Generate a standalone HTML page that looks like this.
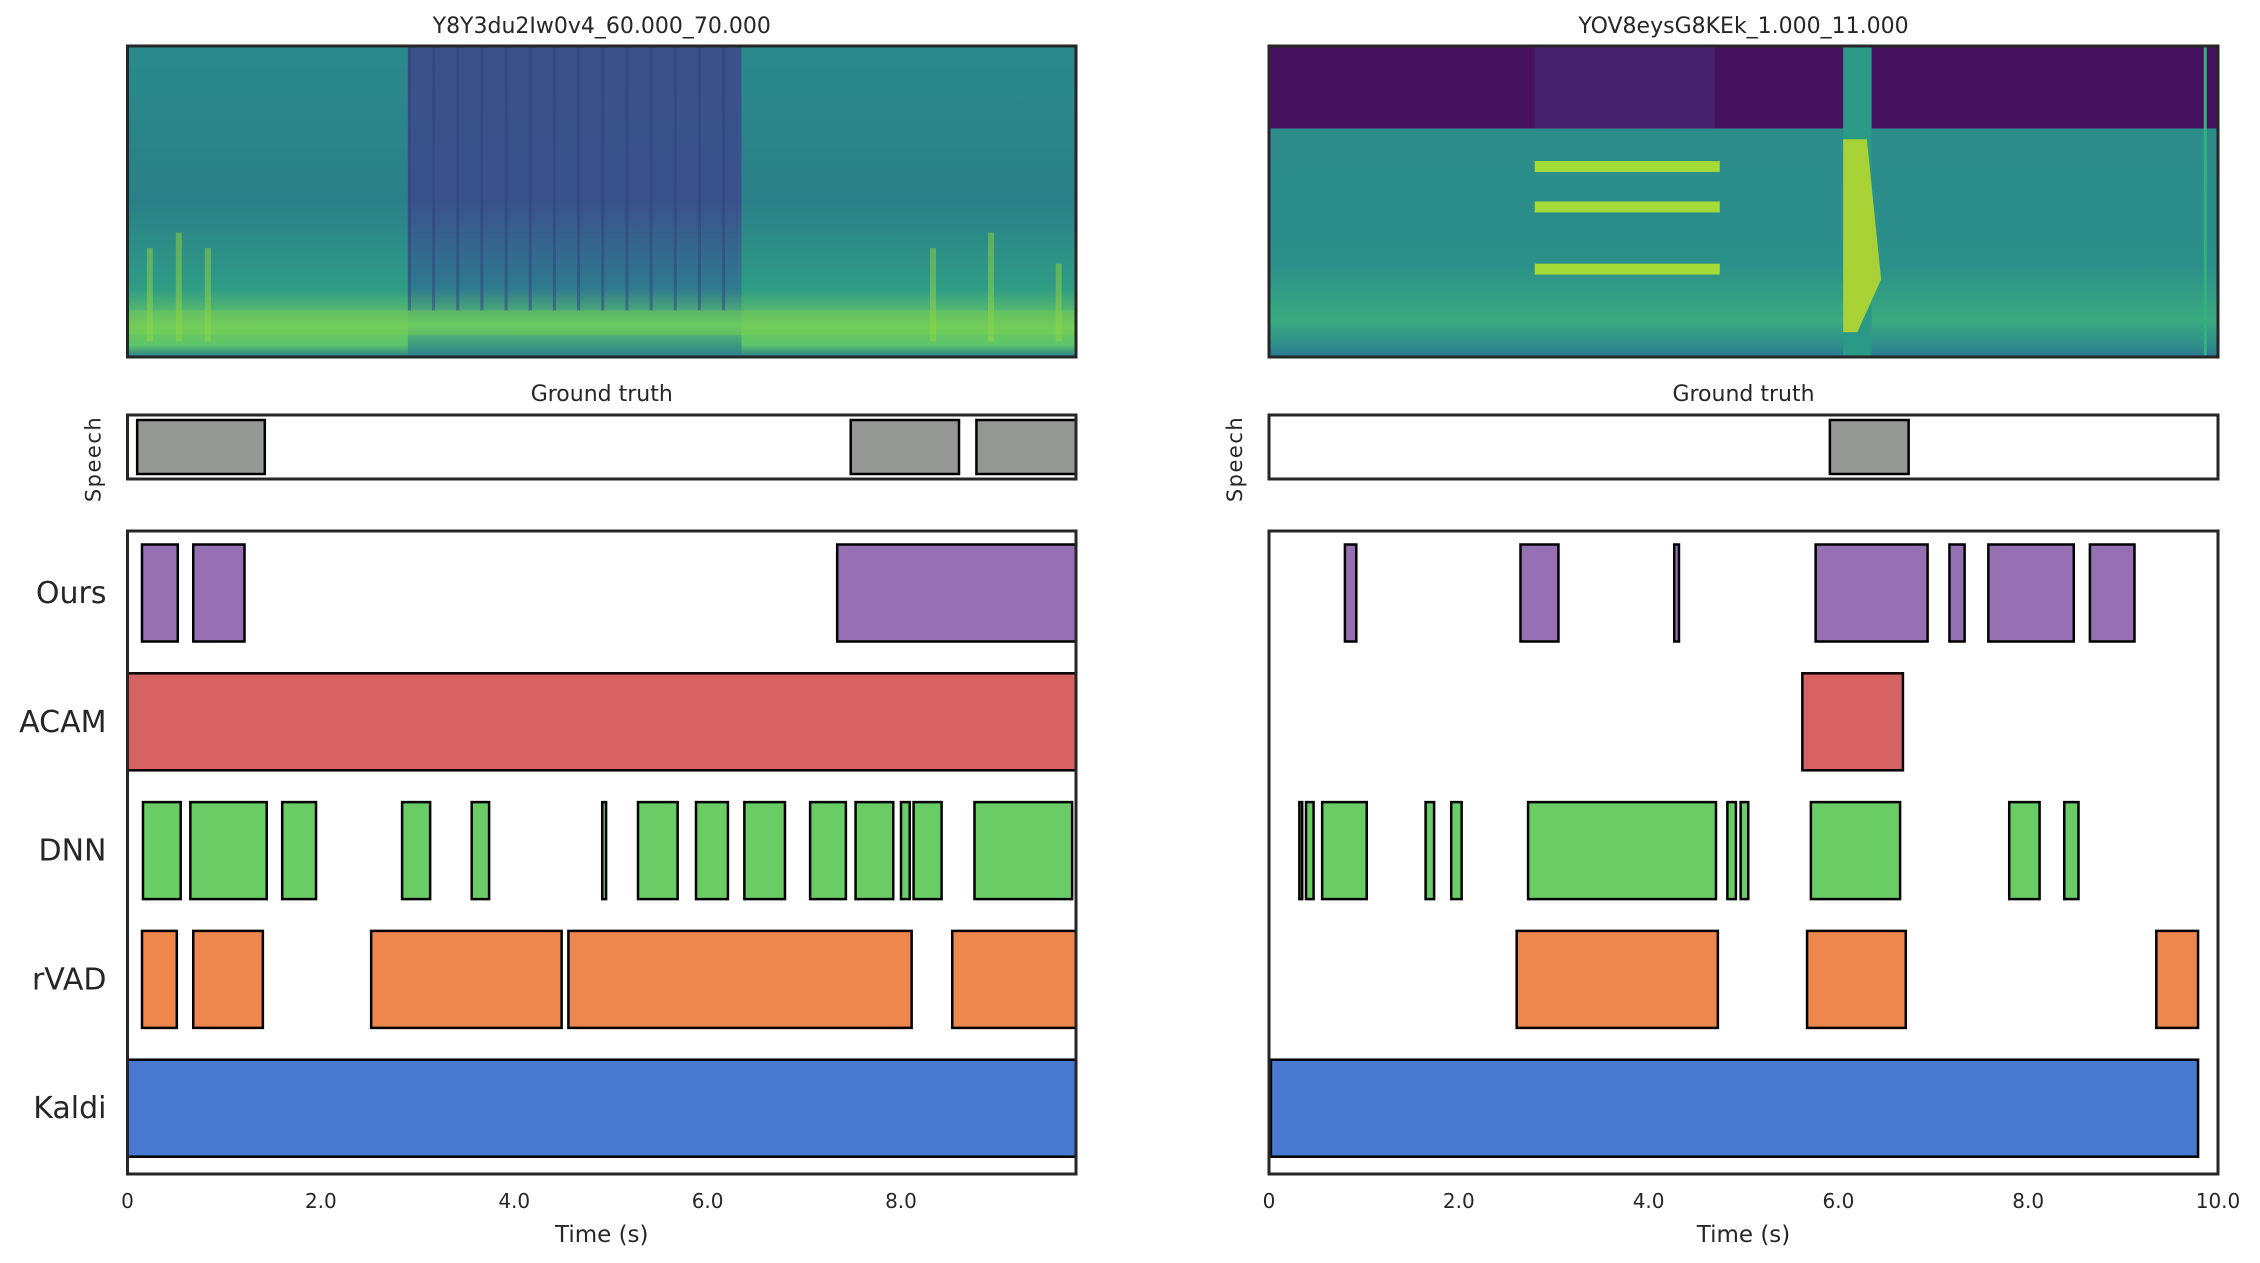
<!DOCTYPE html>
<html><head><meta charset="utf-8"><style>
html,body{margin:0;padding:0;background:#fff;}
svg{display:block;font-family:"DejaVu Sans","Liberation Sans",sans-serif;}
</style></head><body>
<svg id="fig" width="2260" height="1263" viewBox="0 0 2260 1263" xmlns="http://www.w3.org/2000/svg">
<defs>
<linearGradient id="lspec" x1="0" y1="0" x2="0" y2="1">
<stop offset="0" stop-color="#2a8a8b"/><stop offset="0.5" stop-color="#2a8088"/><stop offset="0.78" stop-color="#2f9c85"/><stop offset="0.9" stop-color="#6cc860"/><stop offset="0.96" stop-color="#5ec66a"/><stop offset="1" stop-color="#2b7d8e"/>
</linearGradient>
<linearGradient id="ldark" x1="0" y1="0" x2="0" y2="1">
<stop offset="0" stop-color="#3b518a"/><stop offset="0.5" stop-color="#3a528b"/><stop offset="0.78" stop-color="#2f7a8e"/><stop offset="0.9" stop-color="#5ec56a"/><stop offset="1" stop-color="#2b7d8e"/>
</linearGradient>
<linearGradient id="rspec" x1="0" y1="0" x2="0" y2="1">
<stop offset="0" stop-color="#2c8b8b"/><stop offset="0.7" stop-color="#2b8f8a"/><stop offset="0.88" stop-color="#3aaa7f"/><stop offset="0.96" stop-color="#2f8f8b"/><stop offset="1" stop-color="#2a788e"/>
</linearGradient>
</defs>
<g id="root"></g>
</svg>
<script>
// ---- data (seconds) ----
const leftTitle = "Y8Y3du2Iw0v4_60.000_70.000";
const rightTitle = "YOV8eysG8KEk_1.000_11.000";
const rowNames = ["Ours","ACAM","DNN","rVAD","Kaldi"];
const rowColors = ["#9570b3","#d66262","#6acc65","#ed874e","#4878cf"];
const leftXmax = 9.81;
const rightXmax = 10;
const leftTicks = [0,2,4,6,8];
const leftTickLabels = ["0","2.0","4.0","6.0","8.0"];
const rightTicks = [0,2,4,6,8,10];
const rightTickLabels = ["0","2.0","4.0","6.0","8.0","10.0"];

const leftGT = [[0.10,1.42],[7.48,8.60],[8.78,9.82]];
const leftOurs = [[0.15,0.52],[0.68,1.21],[7.34,9.82]];
const leftACAM = [[0,9.82]];
const leftDNN = [[0.16,0.55],[0.65,1.44],[1.60,1.95],[2.84,3.13],[3.56,3.74],[4.91,4.95],[5.28,5.69],[5.88,6.21],[6.38,6.80],[7.06,7.43],[7.53,7.92],[8.00,8.09],[8.13,8.42],[8.76,9.77]];
const leftRVAD = [[0.15,0.51],[0.68,1.40],[2.52,4.49],[4.56,8.11],[8.53,9.82]];
const leftKaldi = [[0,9.82]];

const rightGT = [[5.91,6.74]];
const rightOurs = [[0.80,0.92],[2.65,3.05],[4.27,4.32],[5.76,6.94],[7.17,7.33],[7.58,8.48],[8.65,9.12]];
const rightACAM = [[5.62,6.68]];
const rightDNN = [[0.32,0.35],[0.39,0.47],[0.56,1.03],[1.65,1.74],[1.92,2.03],[2.73,4.71],[4.83,4.92],[4.97,5.05],[5.71,6.65],[7.80,8.12],[8.38,8.53]];
const rightRVAD = [[2.61,4.73],[5.67,6.71],[9.35,9.79]];
const rightKaldi = [[0.02,9.79]];

const NS = "http://www.w3.org/2000/svg";
const root = document.getElementById('root');
function mk(tag, attrs, parent){const e=document.createElementNS(NS,tag);for(const k in attrs)e.setAttribute(k,attrs[k]);(parent||root).appendChild(e);return e;}

const specTop=46, specBot=357, gtTop=415, gtBot=479, mainTop=531, mainBot=1174;
const rowStep=128.8, rowH=97, row0Center=593;

function panel(side, x0, x1, xmax, title, gt, rows, ticks, tickLabels){
  const sx = t => x0 + (x1-x0)*t/xmax;
  const g = mk('g',{});
  
  
  const tt = mk('text',{x:(x0+x1)/2,y:33,'text-anchor':'middle','font-size':22,fill:'#262626'},g);
  tt.textContent = title;
  
  
  const W=x1-x0, H=specBot-specTop;
  const cp = mk('clipPath',{id:'clip-'+side},g);
  mk('rect',{x:x0,y:specTop,width:W,height:H},cp);
  const sp = mk('g',{'clip-path':'url(#clip-'+side+')'},g);
  
  
  if(side==='left'){
    mk('rect',{x:x0,y:specTop,width:W,height:H,fill:'url(#lspec)'},sp);
    mk('rect',{x:sx(2.9),y:specTop,width:sx(6.35)-sx(2.9),height:H,fill:'url(#ldark)'},sp);
    for(let i=0;i<14;i++){const t=2.9+i*0.25;mk('rect',{x:sx(t),y:specTop,width:3,height:H*0.85,fill:'#2f3f80',opacity:0.5},sp);}
    [[0.2,0.3],[0.5,0.35],[0.8,0.3],[8.3,0.3],[8.9,0.35],[9.6,0.25]].forEach(p=>mk('rect',{x:sx(p[0]),y:specTop+H*(0.95-p[1]),width:6,height:H*p[1],fill:'#9fd938',opacity:0.45},sp));
    mk('rect',{x:x0,y:specTop+H*0.85,width:W,height:H*0.08,fill:'#7fd34e',opacity:0.35},sp);
  } else {
    mk('rect',{x:x0,y:specTop,width:W,height:H,fill:'url(#rspec)'},sp);
    mk('rect',{x:x0,y:specTop,width:W,height:H*0.265,fill:'#46125f'},sp);
    mk('rect',{x:sx(2.8),y:specTop,width:sx(4.7)-sx(2.8),height:H*0.265,fill:'#462a72',opacity:0.7},sp);
    [0.37,0.5,0.7].forEach(f=>mk('rect',{x:sx(2.8),y:specTop+H*f,width:sx(4.75)-sx(2.8),height:H*0.035,fill:'#a4db36'},sp));
    mk('rect',{x:sx(6.05),y:specTop,width:sx(6.35)-sx(6.05),height:H,fill:'#2a9a87'},sp);
    mk('polygon',{points:`${sx(6.05)},${specTop+H*0.3} ${sx(6.3)},${specTop+H*0.3} ${sx(6.45)},${specTop+H*0.75} ${sx(6.2)},${specTop+H*0.92} ${sx(6.05)},${specTop+H*0.92}`,fill:'#c8e020',opacity:0.8},sp);
    mk('rect',{x:sx(9.85),y:specTop,width:3,height:H,fill:'#2fb47c'},sp);
  }
  mk('rect',{x:x0,y:specTop,width:W,height:H,fill:'none',stroke:'#262626','stroke-width':3},g);
  // ground truth
  const gtt = mk('text',{x:(x0+x1)/2,y:401,'text-anchor':'middle','font-size':22,fill:'#262626'},g);
  gtt.textContent='Ground truth';
  
  
  const gtg = mk('g',{},g);
  
  
  mk('rect',{x:x0,y:gtTop,width:W,height:gtBot-gtTop,fill:'#fff'},gtg);
  gt.forEach(s=>{
    const r = mk('rect',{x:sx(s[0]),y:gtTop+5,width:Math.max(1,sx(Math.min(s[1],xmax))-sx(s[0])),height:gtBot-gtTop-10,fill:'#959794',stroke:'#000','stroke-width':2.5},gtg);
    
    
  });
  mk('rect',{x:x0,y:gtTop,width:W,height:gtBot-gtTop,fill:'none',stroke:'#262626','stroke-width':3},gtg);
  const spl = mk('text',{x:0,y:0,'text-anchor':'middle','font-size':21,fill:'#262626','letter-spacing':'1.5',transform:`translate(${x0-27},${(gtTop+gtBot)/2+12}) rotate(-90)`},g);
  spl.textContent='Speech';
  
  
  // main
  const mg = mk('g',{},g);
  
  
  rows.forEach((segs,i)=>{
    const cy = row0Center + i*rowStep;
    segs.forEach(s=>{
      const r = mk('rect',{x:sx(s[0]),y:cy-rowH/2,width:Math.max(1.5,sx(Math.min(s[1],xmax))-sx(s[0])),height:rowH,fill:rowColors[i],stroke:'#000','stroke-width':2.5},mg);
      
      
    });
    if(side==='left'){
      const lb = mk('text',{x:x0-21,y:cy+10,'text-anchor':'end','font-size':30,fill:'#262626'},g);
      lb.textContent=rowNames[i];
      
      
    }
  });
  mk('rect',{x:x0,y:mainTop,width:W,height:mainBot-mainTop,fill:'none',stroke:'#262626','stroke-width':3},mg);
  ticks.forEach((t,i)=>{
    const tl = mk('text',{x:sx(t),y:1208,'text-anchor':'middle','font-size':20,fill:'#262626'},g);
    tl.textContent=tickLabels[i];
    
    
  });
  const xl = mk('text',{x:(x0+x1)/2,y:1242,'text-anchor':'middle','font-size':23,fill:'#262626'},g);
  xl.textContent='Time (s)';
  
  
}

panel('left',127.5,1076,leftXmax,leftTitle,leftGT,[leftOurs,leftACAM,leftDNN,leftRVAD,leftKaldi],leftTicks,leftTickLabels);
panel('right',1269,2218,rightXmax,rightTitle,rightGT,[rightOurs,rightACAM,rightDNN,rightRVAD,rightKaldi],rightTicks,rightTickLabels);
</script>
</body></html>
